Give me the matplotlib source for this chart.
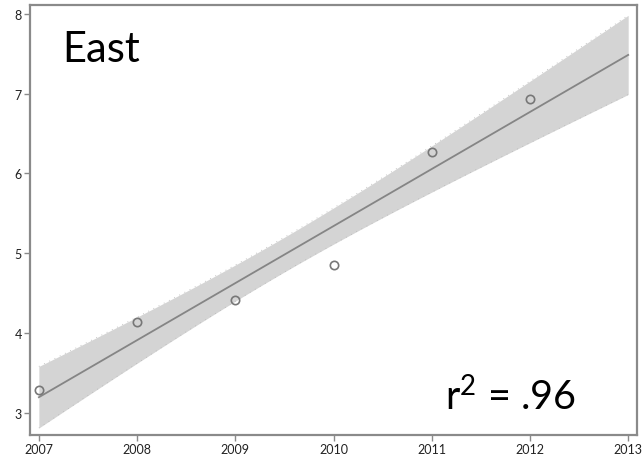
import numpy as np
import matplotlib
matplotlib.use("Agg")
import matplotlib.pyplot as plt

# data
years = [2007, 2008, 2009, 2010, 2011, 2012]
values = [3.29, 4.14, 4.41, 4.85, 6.27, 6.93]
year_ticks = [2007, 2008, 2009, 2010, 2011, 2012, 2013]
value_ticks = [3, 4, 5, 6, 7, 8]
panel_label = "East"
r2_label = "r$^{2}$ = .96"

plt.rcParams["font.family"] = ["Lato", "DejaVu Sans"]
plt.rcParams["mathtext.default"] = "regular"

x = np.array(years, dtype=float)
y = np.array(values)

# linear fit + confidence band around the mean
slope, intercept = np.polyfit(x, y, 1)
xs = np.linspace(year_ticks[0], year_ticks[-1], 200)
fit = intercept + slope * xs
resid = y - (intercept + slope * x)
s = np.sqrt(np.sum(resid ** 2) / (len(x) - 2))
se = s * np.sqrt(1 / len(x) + (xs - x.mean()) ** 2 / np.sum((x - x.mean()) ** 2))
half = 1.645 * se

fig = plt.figure(figsize=(6.43, 4.64), dpi=100, facecolor="white")
ax = fig.add_axes([0.0467, 0.0603, 0.944, 0.9267])

ax.fill_between(xs, fit - half, fit + half, color="#d4d4d4", lw=0, zorder=1)
ax.plot(xs, fit + half, color="#b8b8b8", lw=0.6, ls=(0, (1, 6)), zorder=1)
ax.plot(xs, fit - half, color="#b8b8b8", lw=0.6, ls=(0, (1, 6)), zorder=1)
ax.plot(xs, fit, color="#858585", lw=1.3, zorder=2)
ax.plot(x, y, "o", ms=6, mfc="none", mec="#777777", mew=1.2, zorder=3)

ax.set_xlim(2006.91, 2013.09)
ax.set_ylim(2.72, 8.11)
ax.set_xticks(year_ticks)
ax.set_yticks(value_ticks)
ax.set_xticklabels([str(t) for t in year_ticks])
ax.set_yticklabels([str(t) for t in value_ticks])
ax.tick_params(direction="out", length=4, width=1, color="#8a8a8a",
               labelsize=9, labelcolor="#222222", pad=2)
for spine in ax.spines.values():
    spine.set_color("#8a8a8a")
    spine.set_linewidth(1.6)

ax.text(0.053, 0.87, panel_label, transform=ax.transAxes, fontsize=30,
        color="black", ha="left", va="baseline")
ax.text(0.684, 0.06, r2_label, transform=ax.transAxes, fontsize=28.5,
        color="black", ha="left", va="baseline")

fig.savefig("out.png", dpi=100, facecolor="white")
